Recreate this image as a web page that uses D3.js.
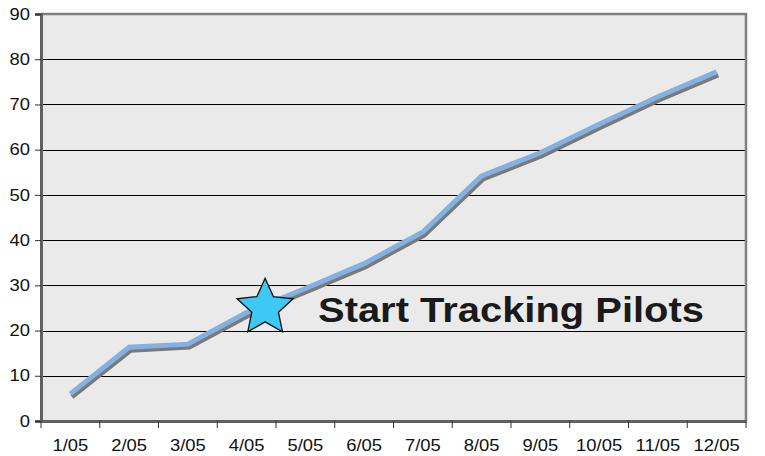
<!DOCTYPE html>
<html>
<head>
<meta charset="utf-8">
<script src="https://cdn.jsdelivr.net/npm/d3@7"></script>
<style>
  body { margin: 0; background: #fff; }
  .tick text { font-family: "Liberation Sans", Arial, sans-serif; font-size: 16px; fill: #111; }
</style>
</head>
<body>
<div class="canva"></div>
<script>
// data
var months = ["1/05", "2/05", "3/05", "4/05", "5/05", "6/05", "7/05", "8/05", "9/05", "10/05", "11/05", "12/05"];
var values = [6, 16.3, 17, 24, 29.3, 34.8, 41.8, 54.2, 59.3, 65.6, 71.7, 77.2];
var yTicks = [0, 10, 20, 30, 40, 50, 60, 70, 80, 90];
var note = "Start Tracking Pilots";
var starAt = { month: "4/05", value: 24.8 };

const W = 765, H = 456;
const pLeft = 41, pRight = 746, pTop = 14, pBottom = 421;
const stretch = 1.15; // the reference text is drawn a bit wide

const svg = d3.select(".canva").append("svg")
              .attr("width", W)
              .attr("height", H);

const x = d3.scaleBand().domain(months).range([pLeft, pRight]);
const y = d3.scaleLinear().domain([0, 90]).range([pBottom, pTop]);

// plot background
svg.append("rect")
   .attr("x", pLeft).attr("y", pTop)
   .attr("width", pRight - pLeft).attr("height", pBottom - pTop)
   .attr("fill", "#eaeaea");

// gridlines
svg.selectAll("line.grid")
   .data(yTicks.slice(1, -1))
   .enter().append("line")
   .attr("class", "grid")
   .attr("x1", pLeft).attr("x2", pRight)
   .attr("y1", function(d) { return Math.round(y(d)) + 0.5; })
   .attr("y2", function(d) { return Math.round(y(d)) + 0.5; })
   .attr("stroke", "#000")
   .attr("stroke-width", 1);

// border top / right
svg.append("path")
   .attr("d", "M" + pLeft + "," + pTop + "H" + pRight + "V" + pBottom)
   .attr("fill", "none")
   .attr("stroke", "#808080")
   .attr("stroke-width", 2.5);

// y axis
const yAxis = svg.append("g")
   .attr("transform", "translate(" + pLeft + ",0)")
   .call(d3.axisLeft(y).tickValues(yTicks).tickSize(6).tickPadding(5));
yAxis.select(".domain").attr("stroke", "#606060").attr("stroke-width", 3);
yAxis.selectAll(".tick line").attr("stroke", "#333");
yAxis.selectAll(".tick text")
   .attr("x", -11 / stretch)
   .attr("transform", "scale(" + stretch + ",1)");

// x axis: labels centered in bands, ticks at band edges
const xAxis = svg.append("g")
   .attr("transform", "translate(0," + pBottom + ")")
   .call(d3.axisBottom(x).tickSize(0).tickPadding(18.5));
xAxis.select(".domain").attr("stroke", "#606060").attr("stroke-width", 3);
xAxis.selectAll(".tick text").attr("transform", "scale(" + stretch + ",1)");

var edges = months.map(function(m) { return x(m); }).concat([x(months[months.length - 1]) + x.bandwidth()]);
svg.selectAll("line.xtick")
   .data(edges)
   .enter().append("line")
   .attr("class", "xtick")
   .attr("x1", function(d) { return d; })
   .attr("x2", function(d) { return d; })
   .attr("y1", pBottom).attr("y2", pBottom + 7)
   .attr("stroke", "#333");

// line with shadow
const line = d3.line()
   .x(function(d, i) { return x(months[i]) + x.bandwidth() / 2; })
   .y(function(d) { return y(d); });

svg.append("path")
   .datum(values)
   .attr("d", line)
   .attr("transform", "translate(1.5,3)")
   .attr("fill", "none")
   .attr("stroke", "#7a7a7a")
   .attr("stroke-width", 5);

svg.append("path")
   .datum(values)
   .attr("d", line)
   .attr("fill", "none")
   .attr("stroke", "#82b1e2")
   .attr("stroke-width", 5);

// star
const cx = x(starAt.month) + x.bandwidth() / 2 + 18.5;
const cy = y(starAt.value) - 1;
const R = 29.5, r = 14;
var pts = d3.range(10).map(function(i) {
    var a = -Math.PI / 2 + i * Math.PI / 5;
    var rr = i % 2 === 0 ? R : r;
    return [cx + rr * Math.cos(a), cy + rr * Math.sin(a)];
});
svg.append("polygon")
   .attr("points", pts.map(function(p) { return p.join(","); }).join(" "))
   .attr("fill", "#3ec8f4")
   .attr("stroke", "#111")
   .attr("stroke-width", 1.3);

svg.append("text")
   .attr("x", 318).attr("y", 322)
   .attr("font-family", "'Liberation Sans', Arial, sans-serif")
   .attr("font-weight", "bold")
   .attr("font-size", 35)
   .attr("textLength", 386)
   .attr("lengthAdjust", "spacingAndGlyphs")
   .attr("fill", "#1a1a1a")
   .text(note);
</script>
</body>
</html>
